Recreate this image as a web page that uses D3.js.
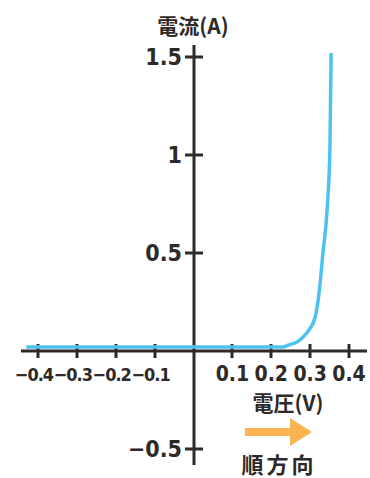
<!DOCTYPE html>
<html>
<head>
<meta charset="utf-8">
<script src="https://cdn.jsdelivr.net/npm/d3@7"></script>
<style>
  html, body { margin: 0; padding: 0; background: #fff; }
  svg { display: block; }
  .num { font-family: "Liberation Sans Narrow", "DejaVu Sans Condensed", "Liberation Sans", sans-serif; font-weight: bold; fill: #2e2a28; }
  .cjk { font-family: "Noto Sans CJK JP", sans-serif; font-weight: bold; fill: #2e2a28; }
</style>
</head>
<body>
<script>
// ---- data ----
const voltage = [-0.43, 0.23, 0.244, 0.267, 0.282, 0.297, 0.313, 0.323, 0.333, 0.344, 0.351, 0.354];
const current = [0, 0, 0.01, 0.026, 0.051, 0.087, 0.153, 0.276, 0.48, 0.71, 1.02, 1.5];
const xTicks = [-0.4, -0.3, -0.2, -0.1, 0.1, 0.2, 0.3, 0.4];
const xTickLabels = ["−0.4", "−0.3", "−0.2", "−0.1", "0.1", "0.2", "0.3", "0.4"];
const yTicks = [1.5, 1, 0.5, -0.5];
const yTickLabels = ["1.5", "1", "0.5", "−0.5"];
const yTitle = "電流(A)";
const xTitle = "電圧(V)";
const arrowLabel = "順方向";

const W = 370, H = 478;
const ink = "#2e2a28";
const svg = d3.select("body").append("svg").attr("width", W).attr("height", H);

const x = d3.scaleLinear().domain([-0.4, 0.4]).range([38, 349]);
const y = d3.scaleLinear().domain([-0.5, 1.5]).range([449, 57]);
const x0 = Math.round(x(0)), y0 = Math.round(y(0));

// axes
svg.append("line").attr("x1", 21).attr("x2", 367).attr("y1", y0).attr("y2", y0)
  .attr("stroke", ink).attr("stroke-width", 3);
svg.append("line").attr("x1", x0).attr("x2", x0).attr("y1", 45).attr("y2", 465)
  .attr("stroke", ink).attr("stroke-width", 3);

// x ticks
svg.selectAll(".xt").data(xTicks).enter().append("line")
  .attr("x1", d => Math.round(x(d))).attr("x2", d => Math.round(x(d)))
  .attr("y1", y0 - 7).attr("y2", y0 + 7)
  .attr("stroke", ink).attr("stroke-width", 3);
svg.selectAll(".xl").data(xTicks).enter().append("text")
  .attr("class", "num")
  .attr("x", d => x(d)).attr("dx", d => d < 0 ? -4 : 0)
  .attr("y", y0 + 30)
  .attr("text-anchor", "middle")
  .attr("font-size", d => d < 0 ? 18 : 21)
  .attr("letter-spacing", d => d < 0 ? -1 : 0)
  .text((d, i) => xTickLabels[i]);

// y ticks
svg.selectAll(".yt").data(yTicks).enter().append("line")
  .attr("x1", x0 - 9).attr("x2", x0 + 9)
  .attr("y1", d => Math.round(y(d))).attr("y2", d => Math.round(y(d)))
  .attr("stroke", ink).attr("stroke-width", 3);
svg.selectAll(".yl").data(yTicks).enter().append("text")
  .attr("class", "num")
  .attr("x", x0 - 12).attr("y", d => y(d)).attr("dy", "0.36em")
  .attr("text-anchor", "end")
  .attr("font-size", 23)
  .text((d, i) => yTickLabels[i]);

// curve
const pts = voltage.map((v, i) => [v, current[i]]);
const line = d3.line().x(d => x(d[0])).y(d => y(d[1])).curve(d3.curveMonotoneX);
svg.append("path").datum(pts)
  .attr("transform", "translate(0,-4)")
  .attr("d", line)
  .attr("fill", "none")
  .attr("stroke", "#4cc2f0")
  .attr("stroke-width", 3.5)
  .attr("stroke-linejoin", "round");

// titles
svg.append("text").attr("class", "cjk").attr("x", 193).attr("y", 34)
  .attr("text-anchor", "middle").attr("font-size", 21).text(yTitle);
svg.append("text").attr("class", "cjk").attr("x", 288).attr("y", 411)
  .attr("text-anchor", "middle").attr("font-size", 21).text(xTitle);

// arrow
const ag = svg.append("g");
ag.append("rect").attr("x", 245).attr("y", 428).attr("width", 48).attr("height", 8).attr("fill", "#f8b451");
ag.append("path").attr("d", "M290,418 L312,432 L290,446 Z").attr("fill", "#f8b451");

svg.append("text").attr("class", "cjk").attr("x", 279).attr("y", 473)
  .attr("text-anchor", "middle").attr("font-size", 22).attr("letter-spacing", 3).text(arrowLabel);
</script>
</body>
</html>
